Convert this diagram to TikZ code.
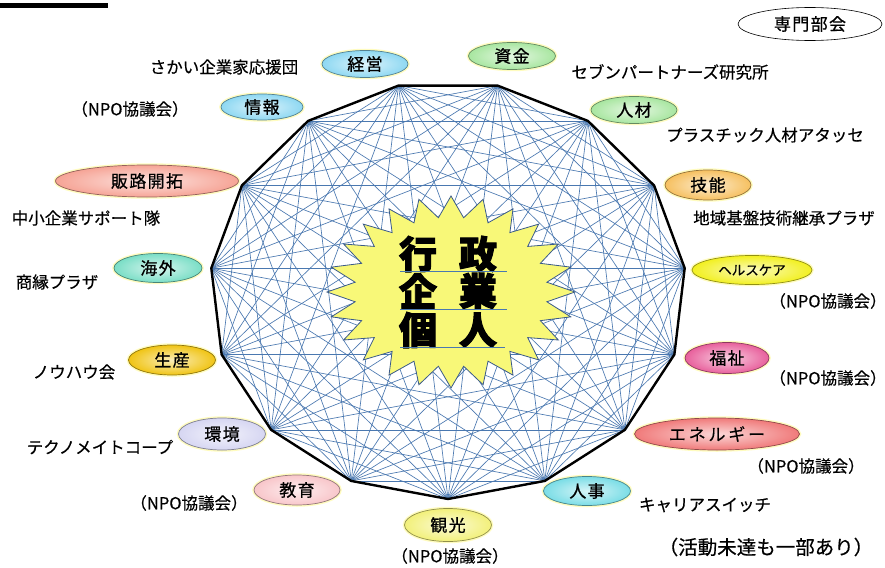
\documentclass[tikz,border=0pt]{standalone}
\usepackage{fontspec}
\setmainfont{Noto Sans CJK JP}
\newfontfamily\jp[FakeBold=0.4]{Noto Sans CJK JP}
\newfontfamily\jpsp[LetterSpace=8,FakeBold=0.8]{Noto Sans CJK JP}
\newfontfamily\jpheavy[BoldFeatures={FakeBold=2.5}]{Noto Sans CJK JP}
\usetikzlibrary{shapes.geometric}
\definecolor{diagc}{HTML}{4A78B0}
\definecolor{starfill}{HTML}{F8F878}
\definecolor{starline}{HTML}{3A5A8A}
\definecolor{cblue}{HTML}{8ED8F2}
\definecolor{cgreen}{HTML}{A8E6A0}
\definecolor{corange}{HTML}{F6C060}
\definecolor{cyellow}{HTML}{F2F020}
\definecolor{cpink}{HTML}{E8609C}
\definecolor{cred}{HTML}{F07A7A}
\definecolor{ccyan}{HTML}{7ADDE6}
\definecolor{cyeltwo}{HTML}{F2F07A}
\definecolor{cpinktwo}{HTML}{F8C6CA}
\definecolor{clav}{HTML}{D6D6F2}
\definecolor{cgold}{HTML}{F0C414}
\definecolor{cteal}{HTML}{7ADEC6}
\definecolor{csalmon}{HTML}{F6A496}
\tikzset{
  diagline/.style={draw=diagc, line width=0.65pt},
  poly/.style={draw=black, line width=2.4pt, line join=round},
  bub/.style={ellipse, inner sep=0pt, draw=#1!60!black, line width=0.7pt,
    preaction={draw=yellow!25!white, line width=3.5pt},
    inner color=#1!30!white, outer color=#1,
    font=\jpsp\fontsize{17}{17}\selectfont},
  lab/.style={inner sep=0pt, font=\jp\fontsize{16.5}{17}\selectfont},
  bigch/.style={inner sep=0pt, font=\jpheavy\bfseries\fontsize{38}{38}\selectfont},
  uline/.style={draw=diagc, line width=0.8pt}
}
\begin{document}
\begin{tikzpicture}[x=1pt,y=-1pt]
\useasboundingbox (0,0) rectangle (885,567);
\fill[white] (0,0) rectangle (885,567);
\fill[black] (0,3) rectangle (108,8);
% vertices of the 15-gon
\foreach \k in {0,...,14}{
  \pgfmathsetmacro\a{-90+24*\k}
  \coordinate (v\k) at ({448+238*cos(\a)},{290-209*sin(\a)});
}
% all diagonals
\foreach \i in {0,...,13}{
  \pgfmathtruncatemacro\s{\i+1}
  \foreach \j in {\s,...,14}{
    \draw[diagline] (v\i) -- (v\j);
  }
}
\draw[poly] (v0) \foreach \k in {1,...,14}{ -- (v\k) } -- cycle;
% star
\coordinate (starc) at (451,292);
\filldraw[fill=starfill, draw=starline, line width=0.8pt, line join=miter]
  ([shift={(0,-96)}]starc)
  \foreach \k in {0,...,23}{
    -- ([shift={({124*sin(15*\k)},{-96*cos(15*\k)})}]starc)
    -- ([shift={({0.78*124*sin(15*\k+7.5)},{-0.78*96*cos(15*\k+7.5)})}]starc)
  } -- cycle;
% centre text
\node[bigch] (c1) at (418,254) {行};
\node[bigch] (c2) at (478,254) {政};
\node[bigch] (c3) at (418,291) {企};
\node[bigch] (c4) at (478,291) {業};
\node[bigch] (c5) at (418,330) {個};
\node[bigch] (c6) at (478,330) {人};
\coordinate (u1a) at (400,271); \coordinate (u1b) at (507,271);
\coordinate (u2a) at (400,309); \coordinate (u2b) at (507,309);
\coordinate (u3a) at (400,347); \coordinate (u3b) at (505,347);
\draw[uline] (u1a) -- (u1b);
\draw[uline] (u2a) -- (u2b);
\draw[uline] (u3a) -- (u3b);
% bubbles
\node[bub=cblue, minimum width=86pt, minimum height=27pt] (keiei) at (365,64) {経営};
\node[bub=cgreen, minimum width=87pt, minimum height=27pt] (shikin) at (512,56) {資金};
\node[bub=cgreen, minimum width=86pt, minimum height=27pt] (jinzai) at (634,110) {人材};
\node[bub=corange, minimum width=86pt, minimum height=30pt] (gino) at (708,185) {技能};
\node[bub=cyellow, minimum width=120pt, minimum height=29pt, font=\jp\fontsize{13.5}{13.5}\selectfont] (health) at (752,270) {ヘルスケア};
\node[bub=cpink, minimum width=84pt, minimum height=31pt] (fukushi) at (727,358) {福祉};
\node[bub=cred, minimum width=165pt, minimum height=32pt, font=\jp\fontsize{17}{17}\selectfont] (energy) at (717,434) {エ\,ネ\,ル\,ギ\,ー};
\node[bub=ccyan, minimum width=87pt, minimum height=29pt] (jinji) at (587,491) {人事};
\node[bub=cyeltwo, minimum width=87pt, minimum height=33pt] (kanko) at (448,525) {観光};
\node[bub=cpinktwo, minimum width=86pt, minimum height=30pt] (kyoiku) at (297,490) {教育};
\node[bub=clav, minimum width=87pt, minimum height=32pt] (kankyo) at (222,434) {環境};
\node[bub=cgold, minimum width=87pt, minimum height=30pt] (seisan) at (172,360) {生産};
\node[bub=cteal, minimum width=88pt, minimum height=29pt] (kaigai) at (158,268) {海外};
\node[bub=csalmon, minimum width=183pt, minimum height=32pt] (hanro) at (147,181) {販路開拓};
\node[bub=cblue, minimum width=82pt, minimum height=26pt] (joho) at (262,107) {情報};
\node[ellipse, draw=black, line width=0.6pt, fill=white, inner sep=0pt, minimum width=144pt, minimum height=33pt, font=\jpsp\fontsize{17}{17}\selectfont] (senmon) at (810,24) {専門部会};
% labels
\node[lab] (l1) at (224,67) {さかい企業家応援団};
\node[lab] (l2) at (130,109) {（NPO協議会）};
\node[lab] (l3) at (670,72) {セブンパートナーズ研究所};
\node[lab] (l4) at (765,135) {プラスチック人材アタッセ};
\node[lab] (l5) at (784,218) {地域基盤技術継承プラザ};
\node[lab] (l6) at (828,301) {（NPO協議会）};
\node[lab] (l7) at (828,378) {（NPO協議会）};
\node[lab] (l8) at (806,466) {（NPO協議会）};
\node[lab] (l9) at (705,505) {キャリアスイッチ};
\node[lab, font=\jp\fontsize{19.5}{20}\selectfont] (l10) at (766,547) {（活動未達も一部あり）};
\node[lab] (l11) at (450,556) {（NPO協議会）};
\node[lab] (l12) at (189,503) {（NPO協議会）};
\node[lab] (l13) at (100,447) {テクノメイトコープ};
\node[lab] (l14) at (74,372) {ノウハウ会};
\node[lab] (l15) at (57,282) {商縁プラザ};
\node[lab] (l16) at (86,218) {中小企業サポート隊};
\end{tikzpicture}
\end{document}
